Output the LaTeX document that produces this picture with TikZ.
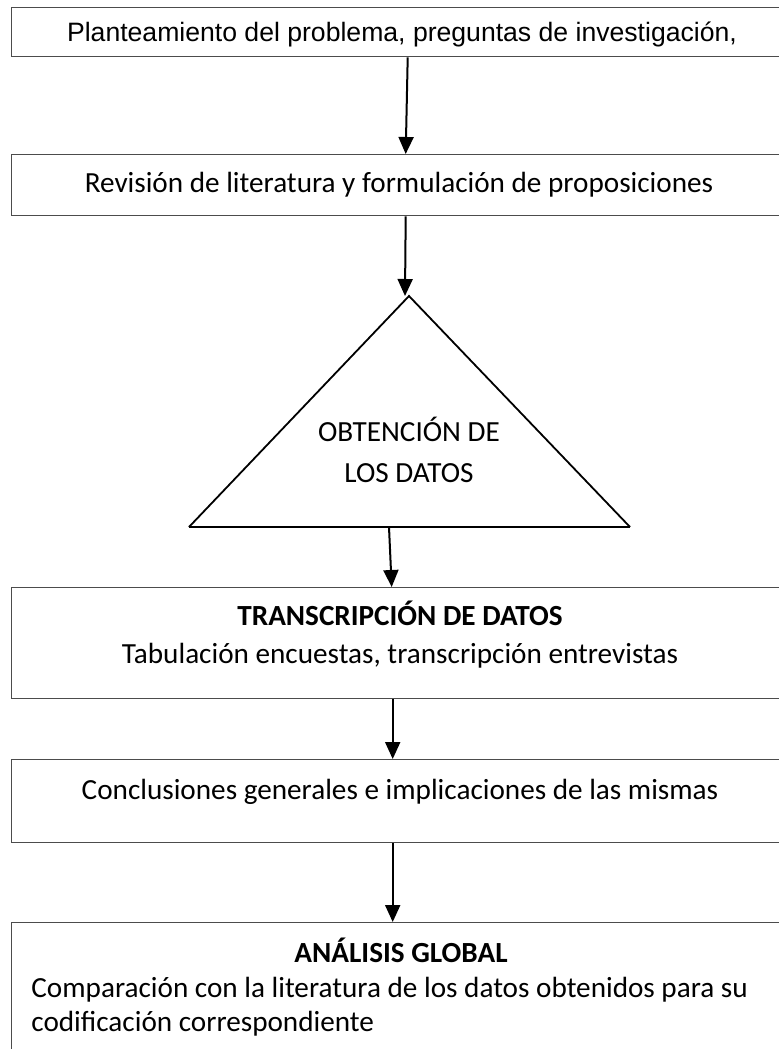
\documentclass[tikz,border=0pt]{standalone}
\usepackage{fontspec}
\setmainfont{Carlito}
\newfontfamily\arialf{Liberation Sans}
\usetikzlibrary{calc,arrows.meta}
\begin{document}
\begin{tikzpicture}[x=0.5pt,y=-0.5pt,
  box/.style={draw=black!70, line width=0.7pt, inner sep=0pt, minimum width=389.5pt, anchor=north west},
  lab/.style={inner sep=0pt, anchor=base, font=\fontsize{14.6pt}{17.5pt}\selectfont},
  arr/.style={draw=black, line width=1pt, -{Triangle[length=8.5pt,width=7.5pt]}},
  tri/.style={draw=black, line width=0.9pt}]
\useasboundingbox (0,0) rectangle (779,1049);
\clip (0,0) rectangle (779,1049);
\fill[white] (0,0) rectangle (779,1049);
% boxes
\node[box, minimum height=24.5pt] (b1) at (11,7) {};
\node[box, minimum height=30.5pt] (b2) at (11,154) {};
\node[box, minimum height=55.5pt] (b3) at (11,587) {};
\node[box, minimum height=41.5pt] (b4) at (11,759) {};
\node[box, minimum height=100pt] (b5) at (11,922) {};
% texts
\node[lab, font=\arialf\fontsize{13.3pt}{16pt}\selectfont] (t1) at (402,41) {Planteamiento del problema, preguntas de investigación,};
\node[lab] (t2) at (399,192) {Revisión de literatura y formulación de proposiciones};
\node[lab] (t3a) at (400,625) {\bfseries TRANSCRIPCIÓN DE DATOS};
\node[lab] (t3b) at (400,663) {Tabulación encuestas, transcripción entrevistas};
\node[lab] (t4) at (400,799) {Conclusiones generales e implicaciones de las mismas};
\node[lab] (t5a) at (401,962) {\bfseries ANÁLISIS GLOBAL};
\node[lab, anchor=base west] (t5b) at (31,997) {Comparación con la literatura de los datos obtenidos para su};
\node[lab, anchor=base west] (t5c) at (31,1031) {codificación correspondiente};
% triangle
\coordinate (tA) at (409,296);
\coordinate (tL) at (189,527);
\coordinate (tR) at (630,527);
\draw[tri, line join=miter] (tL) -- (tA) -- (tR);
\draw[draw=black, line width=1.4pt] (tL) -- (tR);
\node[lab] (tt1) at (409,441) {OBTENCIÓN DE};
\node[lab] (tt2) at (409,482) {LOS DATOS};
% arrows
\draw[arr] ($(b1.south)+(6.5,0)$) -- ($(b2.north)+(4.5,0)$);
\draw[arr] ($(b2.south)+(4.5,0)$) -- ($(tA)+(-4,0)$);
\draw[arr] ($(tL)!0.4535!(tR)$) -- ($(b3.north)+(-9.5,0)$);
\draw[arr] ($(b3.south)+(-8.5,0)$) -- ($(b4.north)+(-8.5,0)$);
\draw[arr] ($(b4.south)+(-8.5,0)$) -- ($(b5.north)+(-8.5,0)$);
\end{tikzpicture}
\end{document}
